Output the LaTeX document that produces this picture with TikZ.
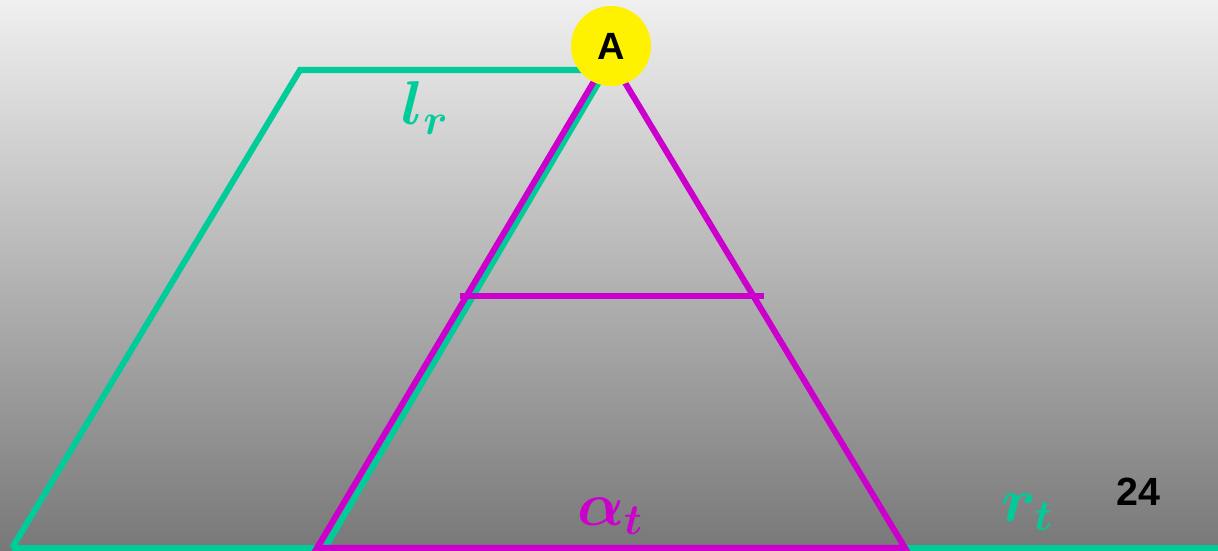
\RequirePackage{fix-cm}
\documentclass[tikz,border=0pt]{standalone}
\usepackage{amsmath}
\usepackage{fontspec}
\newfontfamily\labelsans{Liberation Sans}
\usepackage{tikz}
\usetikzlibrary{positioning}

\definecolor{trapgreen}{RGB}{0,204,153}
\definecolor{trimag}{RGB}{204,0,204}

\begin{document}
\begin{tikzpicture}[x=0.025cm,y=-0.025cm,
		greenline/.style={draw=trapgreen,line width=4.3pt,line join=miter},
		magline/.style={draw=trimag,line width=4.3pt,line join=miter},
		biglabel/.style={font=\fontsize{44}{52}\selectfont\boldmath,inner sep=0pt}]
		\useasboundingbox (0,0) rectangle (1218,551);
		\shade[top color=black!6,bottom color=black!53] (0,0) rectangle (1218,551);
		% corners of the figure
		\coordinate (gl) at (12,548);
		\coordinate (gt) at (300,70);
		\coordinate (gr) at (606,70);
		\coordinate (gb) at (325,548);
		\coordinate (apex) at (609,56);
		\coordinate (bl) at (317,548);
		\coordinate (br) at (905,548);
		\coordinate (hl) at (460,296);
		\coordinate (hr) at (764,296);
		\coordinate (edge) at (1218,548);
		% green trapezoid
		\draw[greenline] (gl) -- (gt) -- (gr) -- (gb);
		\draw[greenline] (gl) -- (bl);
		\draw[greenline] (br) -- (edge);
		% magenta triangle with cross bar
		\draw[magline] (bl) -- (apex) -- (br) -- cycle;
		\draw[magline,line cap=butt] (hl) -- (hr);
		\node[circle,fill=yellow,minimum size=80*0.025cm,inner sep=0pt,
			font=\labelsans\bfseries\fontsize{27}{32}\selectfont] (A) at (611,46) {A};
		\node[biglabel,text=trapgreen] (lr) at (425,108) {$l_r$};
		\node[biglabel,text=trimag] (at) at (610,516) {$\alpha_t$};
		\node[biglabel,text=trapgreen] (rt) at (1027,512) {$r_t$};
		\node[font=\labelsans\bfseries\fontsize{28}{32}\selectfont,inner sep=0pt] (pg) at (1138,492) {24};
	\end{tikzpicture}
\end{document}
